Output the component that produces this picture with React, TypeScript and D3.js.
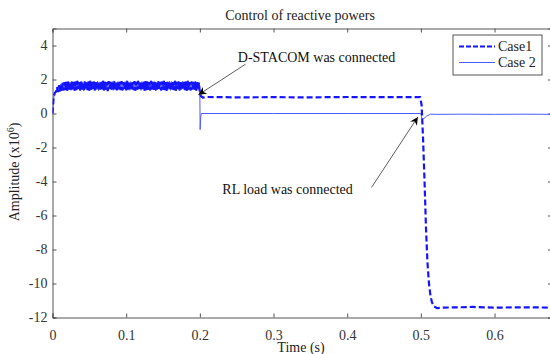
import { useEffect, useRef } from "react";
import * as d3 from "d3";

// start-up (both cases share it), ripple sampled every rippleStep seconds from 0.005 s
const startup: [number, number][] = [
  [0, 0],
  [0.0015, 0.9],
  [0.003, 1.2],
];
const rippleStart = 0.005;
const rippleStep = 0.00125;
const ripple = [
  1.3, 1.55, 1.26, 1.66, 1.3, 1.74, 1.34, 1.8, 1.36, 1.84, 1.38, 1.86, 1.34, 1.88, 1.4, 1.84,
  1.36, 1.9, 1.42, 1.86, 1.34, 1.88, 1.38, 1.92, 1.44, 1.84, 1.36, 1.88, 1.4, 1.86, 1.32, 1.9,
  1.42, 1.84, 1.38, 1.88, 1.34, 1.92, 1.4, 1.86, 1.44, 1.88, 1.36, 1.84, 1.4, 1.9, 1.34, 1.86,
  1.38, 1.88, 1.42, 1.92, 1.36, 1.86, 1.4, 1.84, 1.32, 1.9, 1.44, 1.86, 1.38, 1.88, 1.36, 1.92,
  1.4, 1.84, 1.34, 1.88, 1.42, 1.86, 1.38, 1.9, 1.36, 1.84, 1.44, 1.88, 1.34, 1.92, 1.4, 1.86,
  1.36, 1.88, 1.42, 1.84, 1.38, 1.9, 1.34, 1.86, 1.4, 1.92, 1.44, 1.84, 1.36, 1.88, 1.42, 1.86,
  1.34, 1.9, 1.38, 1.88, 1.4, 1.84, 1.36, 1.92, 1.42, 1.86, 1.38, 1.88, 1.34, 1.84, 1.4, 1.9,
  1.44, 1.86, 1.36, 1.88, 1.4, 1.92, 1.38, 1.84, 1.34, 1.86, 1.42, 1.9, 1.36, 1.88, 1.4, 1.84,
  1.38, 1.92, 1.34, 1.86, 1.44, 1.88, 1.36, 1.84, 1.4, 1.9, 1.42, 1.86, 1.38, 1.88, 1.34, 1.92,
  1.4, 1.84, 1.36, 1.88, 1.42, 1.86, 1.38, 1.9, 1.34, 1.86, 1.4, 1.82,
];

// after D-STATCOM connection (t = 0.2 s)
const case1Tail: [number, number][] = [
  [0.2, 1.25], [0.2015, 1.02], [0.204, 0.93], [0.21, 0.97], [0.25, 0.95], [0.3, 0.96],
  [0.35, 0.95], [0.4, 0.97], [0.45, 0.96], [0.499, 0.96], [0.501, 0.5], [0.503, -1.5],
  [0.505, -4], [0.507, -6.8], [0.509, -8.8], [0.511, -10.0], [0.513, -10.7], [0.515, -11.1],
  [0.518, -11.35], [0.522, -11.45], [0.53, -11.42], [0.57, -11.38], [0.6, -11.42],
  [0.64, -11.4], [0.68, -11.42],
];
const case2Tail: [number, number][] = [
  [0.2, 1.25], [0.2004, -0.95], [0.2012, -0.2], [0.202, 0], [0.3, 0], [0.4, 0], [0.5, 0],
  [0.5015, -0.32], [0.504, -0.3], [0.508, -0.15], [0.513, -0.04], [0.52, -0.05],
  [0.56, -0.04], [0.6, -0.05], [0.64, -0.04], [0.68, -0.05],
];

const xTicks = [0, 0.1, 0.2, 0.3, 0.4, 0.5, 0.6];
const yTicks = [4, 2, 0, -2, -4, -6, -8, -10, -12];
const seriesNames = ["Case1", "Case 2"];

const W = 550;
const H = 354;
const M = { left: 52.5, right: -2, top: 28.5, bottom: 36.5 };
const FONT = "'Liberation Serif', 'Times New Roman', serif";

export default function App() {
  const ref = useRef<SVGSVGElement>(null);

  useEffect(() => {
    const svg = d3.select(ref.current);
    svg.selectAll("*").remove();

    const x = d3.scaleLinear().domain([0, 0.678]).range([M.left, W - M.right]);
    const y = d3.scaleLinear().domain([-12, 5]).range([H - M.bottom, M.top]);

    const rippleData: [number, number][] = ripple.map((v, i) => [rippleStart + i * rippleStep, v]);
    const case1 = [...startup, ...rippleData, ...case1Tail];
    const case2 = [...startup, ...rippleData, ...case2Tail];

    const defs = svg.append("defs");
    defs.append("clipPath").attr("id", "plot-clip")
      .append("rect")
      .attr("x", M.left).attr("y", M.top)
      .attr("width", W - M.right - M.left).attr("height", H - M.bottom - M.top);

    defs.append("marker")
      .attr("id", "arrowhead")
      .attr("viewBox", "0 0 10 10")
      .attr("refX", 10).attr("refY", 5)
      .attr("markerWidth", 11).attr("markerHeight", 8)
      .attr("markerUnits", "userSpaceOnUse")
      .attr("orient", "auto")
      .append("path").attr("d", "M0,0 L10,5 L0,10 L3,5 Z").attr("fill", "#000");

    // title
    svg.append("text")
      .attr("x", 300).attr("y", 20)
      .attr("text-anchor", "middle")
      .attr("font-family", FONT).attr("font-size", 14).attr("fill", "#222")
      .text("Control of reactive powers");

    const axisColor = "#555";
    const tickColor = "#333";

    // bottom axis
    const gx = svg.append("g")
      .attr("transform", `translate(0,${H - M.bottom})`)
      .call(d3.axisBottom(x).tickValues(xTicks).tickSize(-4).tickPadding(10).tickFormat((d) => String(d)));
    // top ticks
    const gxTop = svg.append("g")
      .attr("transform", `translate(0,${M.top})`)
      .call(d3.axisTop(x).tickValues(xTicks).tickSize(-4).tickFormat(() => ""));
    // left axis
    const gy = svg.append("g")
      .attr("transform", `translate(${M.left},0)`)
      .call(d3.axisLeft(y).tickValues(yTicks).tickSize(-4).tickPadding(5).tickFormat((d) => String(d)));
    // right ticks
    const gyRight = svg.append("g")
      .attr("transform", `translate(${W - M.right},0)`)
      .call(d3.axisRight(y).tickValues(yTicks).tickSize(-4).tickFormat(() => ""));

    [gx, gxTop, gy, gyRight].forEach((g) => {
      g.select(".domain").attr("stroke", axisColor);
      g.selectAll(".tick line").attr("stroke", axisColor);
      g.selectAll(".tick text")
        .attr("font-family", FONT).attr("font-size", 14).attr("fill", tickColor);
    });
    gx.selectAll(".tick text").attr("dy", "0.9em");

    // x label
    svg.append("text")
      .attr("x", 301).attr("y", 352)
      .attr("text-anchor", "middle")
      .attr("font-family", FONT).attr("font-size", 14).attr("fill", "#222")
      .text("Time (s)");

    // y label
    const yl = svg.append("text")
      .attr("transform", "translate(19,172) rotate(-90)")
      .attr("text-anchor", "middle")
      .attr("font-family", FONT).attr("font-size", 14).attr("fill", "#222");
    yl.append("tspan").text("Amplitude (x10");
    yl.append("tspan").attr("font-size", 10).attr("dy", -5).text("6");
    yl.append("tspan").attr("dy", 5).text(")");

    const line = d3.line<[number, number]>().x((d) => x(d[0])).y((d) => y(d[1]));
    const plot = svg.append("g").attr("clip-path", "url(#plot-clip)");

    plot.append("path")
      .datum(case2)
      .attr("d", line)
      .attr("fill", "none")
      .attr("stroke", "#4d5cff")
      .attr("stroke-width", 1);

    plot.append("path")
      .datum(case1)
      .attr("d", line)
      .attr("fill", "none")
      .attr("stroke", "#1414ff")
      .attr("stroke-width", 2.2)
      .attr("stroke-dasharray", "6 3");

    // annotations
    const ann = svg.append("g").attr("font-family", FONT).attr("font-size", 14).attr("fill", "#111");
    ann.append("text").attr("x", x(0.2515)).attr("y", y(3.05)).text("D-STACOM was connected");
    ann.append("line")
      .attr("x1", x(0.262)).attr("y1", y(2.9))
      .attr("x2", x(0.198)).attr("y2", y(1.1))
      .attr("stroke", "#333").attr("stroke-width", 0.8)
      .attr("marker-end", "url(#arrowhead)");
    ann.append("text").attr("x", x(0.2305)).attr("y", y(-4.75)).text("RL load was connected");
    ann.append("line")
      .attr("x1", x(0.433)).attr("y1", y(-4.35))
      .attr("x2", x(0.496)).attr("y2", y(-0.2))
      .attr("stroke", "#333").attr("stroke-width", 0.8)
      .attr("marker-end", "url(#arrowhead)");

    // legend
    const lg = svg.append("g").attr("transform", "translate(453,35)");
    lg.append("rect").attr("width", 89).attr("height", 40)
      .attr("fill", "#fff").attr("stroke", "#555").attr("stroke-width", 1);
    seriesNames.forEach((name, i) => {
      const ly = 11.5 + i * 16;
      lg.append("line")
        .attr("x1", 6).attr("x2", 42).attr("y1", ly).attr("y2", ly)
        .attr("stroke", i === 0 ? "#1414ff" : "#4d5cff")
        .attr("stroke-width", i === 0 ? 2.2 : 1)
        .attr("stroke-dasharray", i === 0 ? "5 2" : null);
      lg.append("text")
        .attr("x", 45).attr("y", ly + 4.5)
        .attr("font-family", FONT).attr("font-size", 14).attr("fill", "#222")
        .text(name);
    });
  }, []);

  return (
    <svg
      ref={ref}
      width={W}
      height={H}
      style={{ position: "absolute", left: 0, top: 0, background: "#fff" }}
    />
  );
}
